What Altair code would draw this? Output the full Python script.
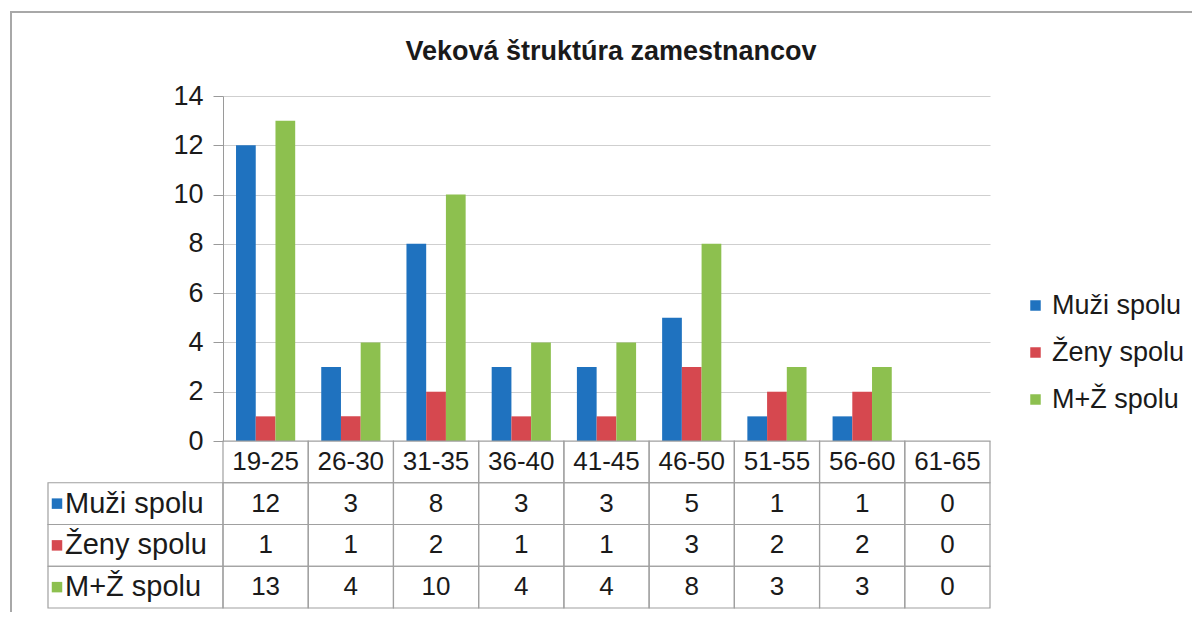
import altair as alt
import pandas as pd

title_text = ["Veková štruktúra zamestnancov"]
categories = ["19-25", "26-30", "31-35", "36-40", "41-45", "46-50", "51-55", "56-60", "61-65"]
series_names = ["Muži spolu", "Ženy spolu", "M+Ž spolu"]
muzi = [12, 3, 8, 3, 3, 5, 1, 1, 0]
zeny = [1, 1, 2, 1, 1, 3, 2, 2, 0]
spolu = [13, 4, 10, 4, 4, 8, 3, 3, 0]
y_ticks = [0, 2, 4, 6, 8, 10, 12, 14]
colors = ["#1f72bf", "#d6484f", "#8dc04f"]

values = [muzi, zeny, spolu]
rows = []
for s, vals in zip(series_names, values):
    for c, v in zip(categories, vals):
        rows.append({"cat": c, "series": s, "row": s, "value": v})
df = pd.DataFrame(rows)
hdr = pd.DataFrame({"cat": categories, "row": ["hdr"] * len(categories)})
cells_df = pd.concat([hdr, df[["cat", "row"]]], ignore_index=True)
lab = pd.DataFrame({"series": series_names})

W, H = 767, 345
row_domain = ["hdr"] + series_names
table_range = [H, 512]
FONT = "Liberation Sans"
TXT = "#1a1a1a"
GRID = "#a0a0a0"

xs = alt.Scale(domain=categories, paddingInner=0, paddingOuter=0)


def X():
    return alt.X("cat:N", scale=xs, axis=None, sort=categories)


def ty(field):
    return alt.Y(field, type="nominal",
                 scale=alt.Scale(domain=row_domain, range=table_range,
                                 paddingInner=0, paddingOuter=0),
                 axis=None)


color = alt.Color(
    "series:N",
    scale=alt.Scale(domain=series_names, range=colors),
    sort=series_names,
    legend=alt.Legend(title=None, orient="none", legendX=799, legendY=196,
                      symbolType="square", symbolSize=110, labelFontSize=27,
                      labelFont=FONT, rowPadding=19, labelColor=TXT,
                      symbolStrokeWidth=0, labelOffset=3),
)

frame = alt.Chart(pd.DataFrame({"k": [0]})).mark_rect(
    fillOpacity=0, stroke="#a8a8a8", strokeWidth=2
).encode(x=alt.value(-212), x2=alt.value(1100), y=alt.value(-84), y2=alt.value(700))

title = alt.Chart(pd.DataFrame({"t": title_text})).mark_text(
    fontSize=27, font=FONT, fontWeight="bold", color=TXT, baseline="alphabetic", align="center"
).encode(text="t:N", x=alt.value(388), y=alt.value(-36))

bars = alt.Chart(df).mark_bar().encode(
    x=X(),
    xOffset=alt.XOffset("series:N",
                        scale=alt.Scale(domain=series_names, paddingInner=0, paddingOuter=0.66),
                        sort=series_names),
    y=alt.Y("value:Q", scale=alt.Scale(domain=[0, 14]),
            axis=alt.Axis(values=y_ticks, title=None, labelFontSize=27, labelFont=FONT,
                          labelColor=TXT, tickSize=10, tickColor="#9a9a9a",
                          labelPadding=10, gridColor="#cfcfcf", domainColor="#9a9a9a")),
    color=color,
)

cells = alt.Chart(cells_df).mark_rect(
    fillOpacity=0, stroke=GRID, strokeWidth=1.2
).encode(x=X(), y=ty("row"))

labcells = alt.Chart(lab).mark_rect(
    fillOpacity=0, stroke=GRID, strokeWidth=1.2
).encode(x=alt.value(-175), x2=alt.value(0), y=ty("series"))

vtext = alt.Chart(df).mark_text(fontSize=26, font=FONT, color=TXT).encode(
    x=X(), y=ty("row"), text="value:Q")

htext = alt.Chart(hdr).mark_text(fontSize=26, font=FONT, color=TXT).encode(
    x=X(), y=ty("row"), text="cat:N")

ltext = alt.Chart(lab).mark_text(fontSize=29, font=FONT, color=TXT, align="left").encode(
    x=alt.value(-158), y=ty("series"), text="series:N")

squares = alt.Chart(lab).mark_square(size=110, opacity=1).encode(
    x=alt.value(-166), y=ty("series"), color=color)

chart = alt.layer(frame, title, bars, cells, labcells, vtext, htext, ltext, squares).resolve_scale(
    y="independent"
).properties(
    width=W, height=H,
    padding={"left": 215, "top": 88, "right": 202, "bottom": 171},
    autosize=alt.AutoSizeParams(type="none"),
).configure_view(stroke=None)

chart.save("out.html", embed_options={"renderer": "svg", "actions": False})
